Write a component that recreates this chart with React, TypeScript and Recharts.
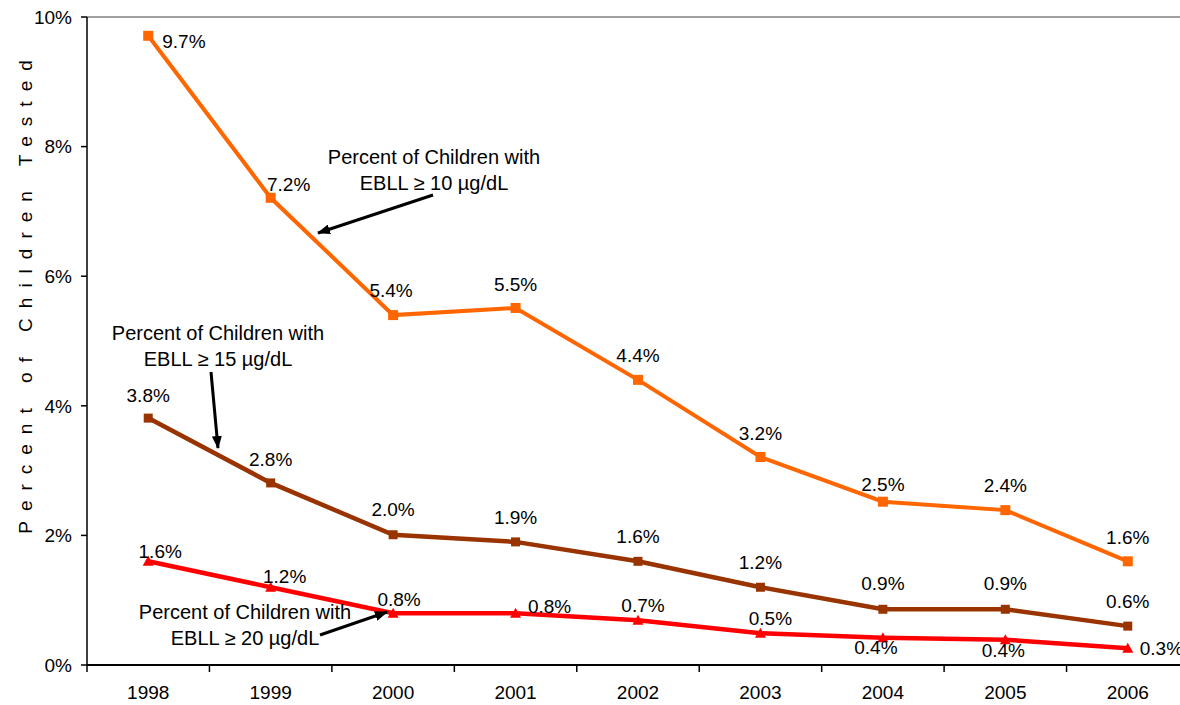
import { LineChart, Line, XAxis, YAxis, ReferenceLine } from "recharts"

const years = [1998, 1999, 2000, 2001, 2002, 2003, 2004, 2005, 2006]
const ebll10 = [9.71, 7.21, 5.4, 5.51, 4.4, 3.21, 2.52, 2.39, 1.6]
const ebll15 = [3.81, 2.81, 2.01, 1.9, 1.6, 1.2, 0.86, 0.86, 0.6]
const ebll20 = [1.6, 1.2, 0.8, 0.8, 0.69, 0.49, 0.42, 0.39, 0.26]
const yTicks = [0, 2, 4, 6, 8, 10]
const xTicks = [...years.flatMap((y) => [y - 0.5, y]), 2006.5]

const yTitle = "Percent of Children Tested"
const notes = [
  ["Percent of Children with", "EBLL \u2265 10 \u00b5g/dL"],
  ["Percent of Children with", "EBLL \u2265 15 \u00b5g/dL"],
  ["Percent of Children with", "EBLL \u2265 20 \u00b5g/dL"],
]

const data = years.map((year, i) => ({
  year,
  ebll10: ebll10[i],
  ebll15: ebll15[i],
  ebll20: ebll20[i],
}))

const FONT = "'Liberation Sans', Arial, sans-serif"

// label placement, text centre relative to the point (or start when "start")
type Off = [number, number, ("middle" | "start")?]
const off10: Off[] = [[14, 6, "start"], [18, -13], [-2, -25], [0, -24], [0, -25], [0, -24], [0, -17], [0, -25], [0, -24]]
const off15: Off[] = [[0, -23], [0, -24], [0, -25], [0, -25], [0, -25], [0, -25], [0, -26], [0, -26], [0, -25]]
const off20: Off[] = [[12, -10], [14, -11], [6, -14], [34, -7], [5, -15], [10, -15], [-7, 10], [-2, 11], [12, 0, "start"]]

const makeDot = (key: string, color: string, shape: "square" | "triangle", size: number, offs: Off[]) =>
  (props: any) => {
    const { cx, cy, index, payload } = props
    if (cx == null || cy == null) return <g key={`${key}-${index}`} />
    const v = payload[key] as number
    const [dx, dy, anchor] = offs[index] || [0, -24]
    const h = size / 2
    return (
      <g key={`${key}-${index}`}>
        {shape === "square" ? (
          <rect x={cx - h} y={cy - h} width={size} height={size} fill={color} />
        ) : (
          <polygon points={`${cx},${cy - h - 1} ${cx + h + 1},${cy + h} ${cx - h - 1},${cy + h}`} fill={color} />
        )}
        <text
          x={cx + dx}
          y={cy + dy}
          dy="0.35em"
          textAnchor={anchor || "middle"}
          fontSize={19}
          fontFamily={FONT}
          fill="#000"
        >
          {v.toFixed(1)}%
        </text>
      </g>
    )
  }

const XTick = (props: any) => {
  const { x, y, payload } = props
  const v = payload.value as number
  if (v % 1 !== 0) {
    return <line x1={x} x2={x} y1={y} y2={y + 7} stroke="#000" strokeWidth={1.5} />
  }
  return (
    <text x={x} y={y + 27} dy="0.35em" textAnchor="middle" fontSize={19} fontFamily={FONT} fill="#000">
      {v}
    </text>
  )
}

function Note({ x, y, lines }: { x: number; y: number; lines: string[] }) {
  return (
    <text x={x} y={y} textAnchor="middle" fontSize={20} fontFamily={FONT} fill="#000">
      {lines.map((l, i) => (
        <tspan key={i} x={x} dy={i === 0 ? "0.35em" : 26}>
          {l}
        </tspan>
      ))}
    </text>
  )
}

export default function App() {
  return (
    <div style={{ position: "absolute", left: 0, top: 0, width: 1180, height: 705, overflow: "hidden", background: "#fff" }}>
      <LineChart width={1189} height={705} data={data} margin={{ top: 17, right: 0, bottom: 0, left: 0 }}>
        <XAxis
          dataKey="year"
          type="number"
          domain={[1997.5, 2006.5]}
          ticks={xTicks}
          interval={0}
          tickSize={0}
          tickMargin={0}
          tickLine={false}
          tick={<XTick />}
          height={40}
          axisLine={{ stroke: "#000", strokeWidth: 2 }}
        />
        <YAxis
          domain={[0, 10]}
          ticks={yTicks}
          interval={0}
          width={87}
          tickSize={6}
          tickMargin={9}
          tickFormatter={(v: number) => `${v}%`}
          tick={{ fill: "#000", fontSize: 19, fontFamily: FONT }}
          axisLine={{ stroke: "#000", strokeWidth: 1.5 }}
          tickLine={{ stroke: "#000", strokeWidth: 1.5 }}
        />
        <ReferenceLine y={10} stroke="#808080" strokeWidth={1.5} />
        <Line
          dataKey="ebll20"
          stroke="#FF0000"
          strokeWidth={4.5}
          isAnimationActive={false}
          dot={makeDot("ebll20", "#FF0000", "triangle", 9, off20)}
        />
        <Line
          dataKey="ebll15"
          stroke="#993300"
          strokeWidth={4.5}
          isAnimationActive={false}
          dot={makeDot("ebll15", "#993300", "square", 9, off15)}
        />
        <Line
          dataKey="ebll10"
          stroke="#FF6600"
          strokeWidth={4}
          isAnimationActive={false}
          dot={makeDot("ebll10", "#FF6600", "square", 10, off10)}
        />
      </LineChart>
      <svg
        width={1180}
        height={705}
        style={{ position: "absolute", left: 0, top: 0, pointerEvents: "none" }}
      >
        <defs>
          <marker id="arr" markerWidth="13" markerHeight="10" refX="12" refY="5" orient="auto" markerUnits="userSpaceOnUse">
            <path d="M0,0 L13,5 L0,10 Z" fill="#000" />
          </marker>
        </defs>
        <text
          transform="translate(32, 292) rotate(-90)"
          textAnchor="middle"
          fontSize={19}
          letterSpacing={10}
          fontFamily={FONT}
          fill="#000"
        >
          {yTitle}
        </text>
        <Note x={434} y={157} lines={notes[0]} />
        <Note x={218} y={333} lines={notes[1]} />
        <Note x={245} y={612} lines={notes[2]} />
        <line x1={433} y1={195} x2={318} y2={233} stroke="#000" strokeWidth={3} markerEnd="url(#arr)" />
        <line x1={211} y1={372} x2={218} y2={448} stroke="#000" strokeWidth={3} markerEnd="url(#arr)" />
        <line x1={320} y1={635} x2={387} y2={612} stroke="#000" strokeWidth={3} markerEnd="url(#arr)" />
      </svg>
    </div>
  )
}
